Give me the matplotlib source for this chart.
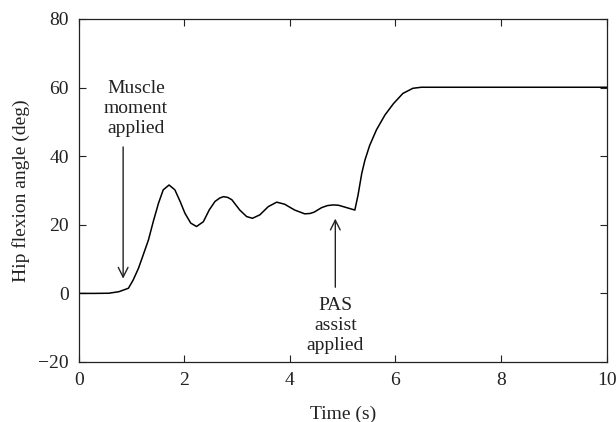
import matplotlib
matplotlib.use("Agg")
import matplotlib.pyplot as plt

# Data
time_s = [0.00, 0.30, 0.57, 0.76, 0.94, 1.03, 1.13, 1.22, 1.32, 1.41, 1.51, 1.60,
          1.71, 1.82, 1.92, 2.01, 2.12, 2.23, 2.36, 2.47, 2.58, 2.67, 2.74, 2.82,
          2.90, 3.05, 3.18, 3.29, 3.43, 3.59, 3.75, 3.90, 4.09, 4.28, 4.38, 4.46,
          4.60, 4.71, 4.82, 4.92, 5.01, 5.12, 5.23, 5.29, 5.36, 5.42, 5.51, 5.64,
          5.80, 5.96, 6.14, 6.33, 6.49, 6.65, 8.00, 10.00]
hip_angle = [0.0, 0.0, 0.05, 0.5, 1.5, 3.9, 7.3, 11.2, 15.6, 20.9, 26.3, 30.2,
             31.6, 30.2, 26.8, 23.4, 20.5, 19.5, 20.9, 24.3, 26.8, 27.8, 28.2, 28.0,
             27.3, 24.3, 22.4, 21.9, 22.9, 25.3, 26.6, 26.0, 24.3, 23.2, 23.3, 23.7,
             25.0, 25.6, 25.8, 25.7, 25.3, 24.8, 24.3, 28.6, 34.9, 38.8, 43.1, 47.7,
             52.0, 55.3, 58.3, 59.8, 60.1, 60.1, 60.1, 60.1]

x_ticks = [0, 2, 4, 6, 8, 10]
y_ticks = [-20, 0, 20, 40, 60, 80]

plt.rcParams['font.family'] = ['Liberation Serif', 'DejaVu Serif']
FS = 14
INK = '#222222'

fig = plt.figure(figsize=(6.16, 4.22), dpi=100)
ax = fig.add_axes([78.8 / 616, 1 - 362 / 422, (606.6 - 78.8) / 616, (362 - 19) / 422])

ax.plot(time_s, hip_angle, color='black', lw=1.1, solid_joinstyle='round')

ax.set_xlim(0, 10)
ax.set_ylim(-20, 80)
ax.set_xticks(x_ticks)
ax.set_yticks(y_ticks)
ax.set_xticklabels([str(v) for v in x_ticks])
ax.set_yticklabels([str(v).replace('-', '\u2212') for v in y_ticks])
ax.tick_params(direction='in', top=True, right=True, length=5, width=0.8,
               labelsize=FS, pad=7, colors=INK)
for s in ax.spines.values():
    s.set_linewidth(0.9)
    s.set_color(INK)

ax.set_xlabel('Time (s)', fontsize=FS, labelpad=12, color=INK)
ax.set_ylabel('Hip flexion angle (deg)', fontsize=FS, labelpad=6, color=INK)

arrow_kw = dict(arrowstyle='->,head_length=0.7,head_width=0.35', color=INK, lw=1.0,
                shrinkA=0, shrinkB=0)
ax.annotate('', xy=(0.84, 4.3), xytext=(0.84, 42.7), arrowprops=arrow_kw)
ax.text(1.08, 53.9, 'Muscle\nmoment\napplied', ha='center', va='center',
        fontsize=FS, linespacing=1.22, color=INK)

ax.annotate('', xy=(4.86, 21.8), xytext=(4.86, 1.8), arrowprops=arrow_kw)
ax.text(4.86, -9.4, 'PAS\nassist\napplied', ha='center', va='center',
        fontsize=FS, linespacing=1.22, color=INK)

fig.savefig('out.png', dpi=100)
